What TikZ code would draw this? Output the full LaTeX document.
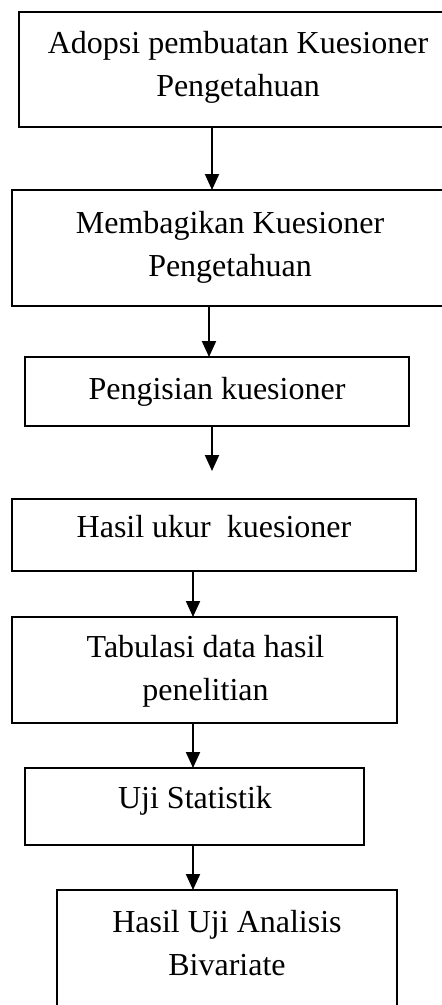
\documentclass[tikz,border=0pt]{standalone}
\usepackage{fontspec}
\setmainfont{Liberation Serif}
\usetikzlibrary{arrows.meta}
\begin{document}
\begin{tikzpicture}[x=1pt,y=-1pt,
  box/.style={draw=black,line width=2pt,rectangle,inner sep=0pt,outer sep=0pt},
  txt/.style={align=center,inner sep=0pt,outer sep=0pt,font=\fontsize{32}{43}\selectfont},
  arr/.style={line width=2pt,-{Triangle[width=14pt,length=16pt]}}]
\useasboundingbox (0,0) rectangle (442,1005);
% boxes
\node[box,minimum width=438pt,minimum height=115pt] (b1) at (238,69.5) {};
\node[box,minimum width=436pt,minimum height=116pt] (b2) at (230,248) {};
\node[box,minimum width=384pt,minimum height=69pt] (b3) at (217,391.5) {};
\node[box,minimum width=404pt,minimum height=72pt] (b4) at (214,535) {};
\node[box,minimum width=385pt,minimum height=106pt] (b5) at (204.5,670) {};
\node[box,minimum width=339pt,minimum height=77pt] (b6) at (194.5,806.5) {};
\node[box,minimum width=340pt,minimum height=130pt] (b7) at (227,955) {};
% texts
\node[txt] (t1) at (238,67) {Adopsi pembuatan Kuesioner\\Pengetahuan};
\node[txt] (t2) at (230,247) {Membagikan Kuesioner\\Pengetahuan};
\node[txt] (t3) at (217,391.5) {Pengisian kuesioner};
\node[txt] (t4) at (214,527) {Hasil ukur\ \ kuesioner};
\node[txt] (t5) at (205.5,671) {Tabulasi data hasil\\penelitian};
\node[txt] (t6) at (195,800.5) {Uji Statistik};
\node[txt] (t7) at (227,943.5) {Hasil Uji Analisis\\Bivariate};
% arrow columns
\coordinate (xa) at (212,0);
\coordinate (xb) at (209,0);
\coordinate (xc) at (193,0);
\coordinate (e3) at (212,471);
% arrows
\draw[arr] (b1.south -| xa) -- (b2.north -| xa);
\draw[arr] (b2.south -| xb) -- (b3.north -| xb);
\draw[arr] (b3.south -| xa) -- (e3);
\draw[arr] (b4.south -| xc) -- (b5.north -| xc);
\draw[arr] (b5.south -| xc) -- (b6.north -| xc);
\draw[arr] (b6.south -| xc) -- (b7.north -| xc);
\end{tikzpicture}
\end{document}
